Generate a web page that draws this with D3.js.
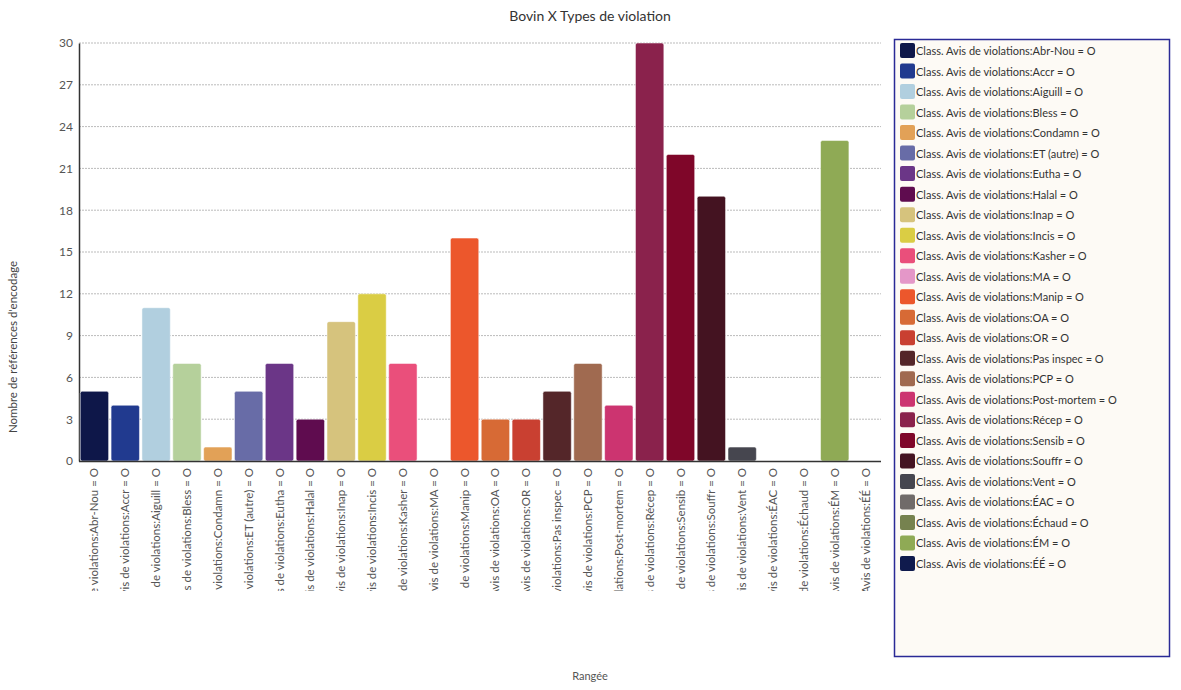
<!DOCTYPE html>
<html>
<head>
<meta charset="utf-8">
<script src="https://cdn.jsdelivr.net/npm/d3@7"></script>
<style>
body{margin:0;background:#fff;font-family:Lato,"Open Sans",sans-serif;}
svg text{font-family:Lato,"Open Sans",sans-serif;}
</style>
</head>
<body>
<svg id="chart" width="1181" height="690"></svg>
<script>
const categories = ["Abr-Nou","Accr","Aiguill","Bless","Condamn","ET (autre)","Eutha","Halal","Inap","Incis","Kasher","MA","Manip","OA","OR","Pas inspec","PCP","Post-mortem","Récep","Sensib","Souffr","Vent","ÉAC","Échaud","ÉM","ÉÉ"];
const values = [5,4,11,7,1,5,7,3,10,12,7,0,16,3,3,5,7,4,30,22,19,1,0,0,23,0];
const colors = ["#0e1749","#213a8f","#b1cfdf","#b5d09b","#e2a157","#686ca7","#6b3687","#5f0c4f","#d6c37d","#dacd44","#ea4f7b","#e497c8","#ec572c","#d76a35","#c94031","#542629","#a06a50","#cc3470","#8a224c","#7f0629","#441321","#46464f","#706b69","#76824f","#8faa55","#0f1a4d"];
const yTicks = [0,3,6,9,12,15,18,21,24,27,30];
const prefix = "Class. Avis de violations:";
const suffix = " = O";
const title = "Bovin X Types de violation";
const yTitle = "Nombre de références d'encodage";
const xTitle = "Rangée";

const svg = d3.select("#chart");
const mLeft = 79, mRight = 881, mTop = 43, mBottom = 461;

const x = d3.scaleBand().domain(categories).range([mLeft, mRight]).paddingInner(0.08).paddingOuter(0.04);
const y = d3.scaleLinear().domain([0, 30]).range([mBottom, mTop]);

// title
svg.append("text").attr("x", 590).attr("y", 21).attr("text-anchor", "middle")
  .attr("font-size", 14).attr("fill", "#333").text(title);

// grid
svg.append("g").selectAll("line").data(yTicks.filter(d => d > 0)).join("line")
  .attr("x1", mLeft).attr("x2", mRight).attr("y1", d => y(d)).attr("y2", d => y(d))
  .attr("stroke", "#bbb").attr("stroke-dasharray", "2,1").attr("stroke-width", 1);

// y axis
const yAxis = svg.append("g").attr("transform", `translate(${mLeft},0)`)
  .call(d3.axisLeft(y).tickValues(yTicks).tickSize(0).tickPadding(6));
yAxis.select(".domain").attr("stroke", "#333").attr("stroke-width", 1.5);
yAxis.selectAll("text").attr("font-size", 12).attr("fill", "#555").attr("font-family", "Lato");

// bars
svg.append("g").selectAll("rect").data(categories).join("rect")
  .attr("x", d => x(d))
  .attr("y", (d, i) => y(values[i]))
  .attr("width", x.bandwidth())
  .attr("height", (d, i) => mBottom - y(values[i]))
  .attr("rx", 2).attr("ry", 2)
  .attr("fill", (d, i) => colors[i])
  .attr("stroke", "rgba(255,255,255,0.5)").attr("stroke-width", 1);

// x axis line
svg.append("line").attr("x1", mLeft).attr("x2", mRight).attr("y1", mBottom + 0.5).attr("y2", mBottom + 0.5)
  .attr("stroke", "#333").attr("stroke-width", 1.5);

// x labels clipped
svg.append("clipPath").attr("id", "xclip").append("rect")
  .attr("x", mLeft - 20).attr("y", mBottom + 2).attr("width", mRight - mLeft + 40).attr("height", 128);
const xl = svg.append("g").attr("clip-path", "url(#xclip)");
xl.selectAll("text").data(categories).join("text")
  .attr("transform", d => `translate(${x(d) + x.bandwidth() / 2 + 4},${mBottom + 7}) rotate(-90)`)
  .attr("text-anchor", "end")
  .attr("font-size", 11.5).attr("fill", "#555")
  .text(d => prefix + d + suffix);

// axis titles
svg.append("text").attr("transform", "translate(17,347) rotate(-90)").attr("text-anchor", "middle")
  .attr("font-size", 11.5).attr("fill", "#444").text(yTitle);
svg.append("text").attr("x", 590).attr("y", 680).attr("text-anchor", "middle")
  .attr("font-size", 11).attr("fill", "#555").text(xTitle);

// legend
const lg = svg.append("g");
lg.append("rect").attr("x", 894.5).attr("y", 39.5).attr("width", 275).attr("height", 617)
  .attr("fill", "#fdfaf5").attr("stroke", "#2a2a96").attr("stroke-width", 1.5);
const items = lg.selectAll("g.item").data(categories).join("g").attr("class", "item")
  .attr("transform", (d, i) => `translate(900,${43 + i * 20.52})`);
items.append("rect").attr("width", 15).attr("height", 15).attr("rx", 2).attr("ry", 2)
  .attr("fill", (d, i) => colors[i]);
items.append("text").attr("x", 16).attr("y", 12).attr("font-size", 11).attr("fill", "#333")
  .text(d => prefix + d + suffix);
</script>
</body>
</html>
